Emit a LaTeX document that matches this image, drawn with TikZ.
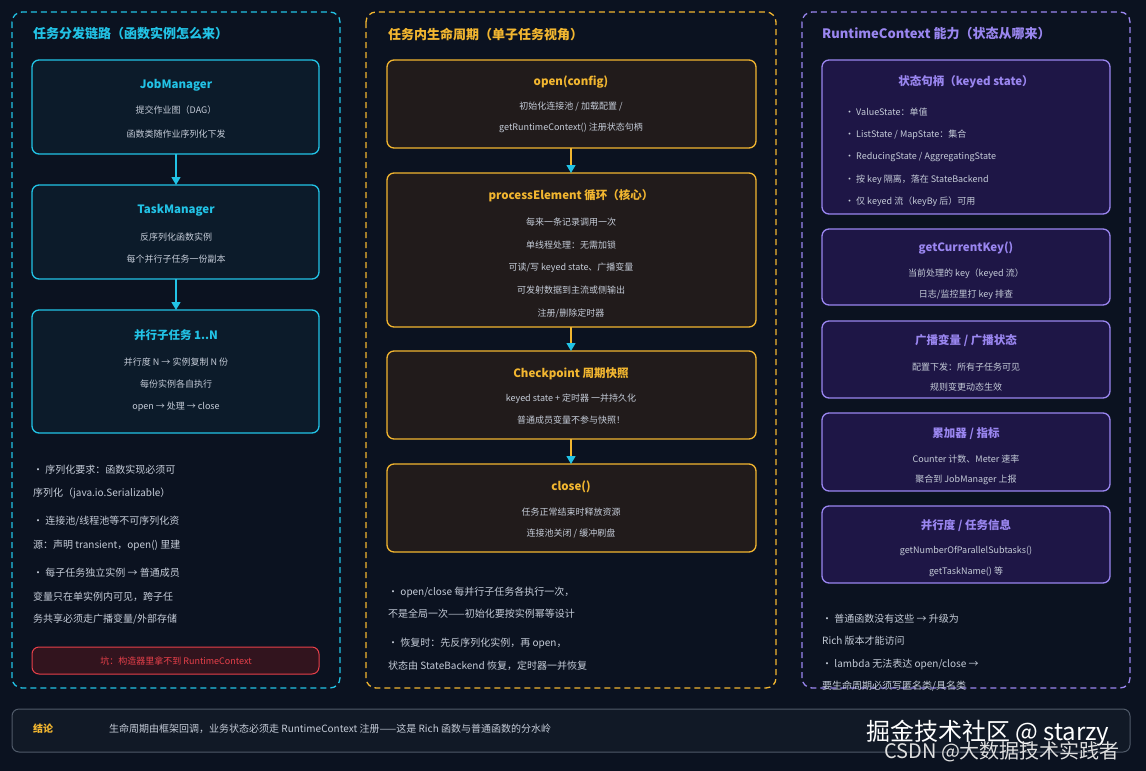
\documentclass[tikz,border=0pt]{standalone}
\usepackage{fontspec}
\setmainfont{Noto Sans CJK SC}
\usetikzlibrary{arrows.meta}
\definecolor{bgc}{HTML}{0B1220}
\definecolor{cyanc}{HTML}{22C3E6}
\definecolor{goldc}{HTML}{F2B630}
\definecolor{purc}{HTML}{9A86F0}
\definecolor{txtc}{HTML}{C5CCD8}
\definecolor{redc}{HTML}{E8404A}
\definecolor{barc}{HTML}{505A69}

\tikzset{
  panel/.style={draw, dashed, dash pattern=on 6pt off 4pt, line width=1.3pt, rounded corners=10pt},
  card/.style={draw, line width=1.3pt, rounded corners=7pt},
  ttl/.style={font=\bfseries\fontsize{11.5}{13}\selectfont},
  body/.style={text=txtc, font=\fontsize{9}{10}\selectfont, inner sep=0pt},
  note/.style={text=txtc, font=\fontsize{10}{11}\selectfont, anchor=west, inner sep=0pt},
  flow/.style={-{Triangle[length=8pt,width=9pt]}, line width=1.3pt}
}

\begin{document}
\begin{tikzpicture}[x=1pt,y=-1pt]
\fill[bgc] (0,0) rectangle (1146,771);
\useasboundingbox (0,0) rectangle (1146,771);

% panels
\draw[panel, cyanc, fill=bgc] (12,12) rectangle (340,688);
\draw[panel, goldc, fill=bgc] (366,12) rectangle (776,688);
\draw[panel, purc, fill=bgc] (802,12) rectangle (1130,688);

\node[ttl, text=cyanc, anchor=west, inner sep=0pt, font=\bfseries\fontsize{13}{14}\selectfont] (ttlA) at (33,34) {任务分发链路（函数实例怎么来）};
\node[ttl, text=goldc, anchor=west, inner sep=0pt, font=\bfseries\fontsize{13}{14}\selectfont] (ttlB) at (388,34) {任务内生命周期（单子任务视角）};
\node[ttl, text=purc, anchor=west, inner sep=0pt, font=\bfseries\fontsize{13}{14}\selectfont] (ttlC) at (822,34) {RuntimeContext 能力（状态从哪来）};

% left column
\draw[card, cyanc, fill={rgb,255:red,12;green,27;blue,42}] (32,60) rectangle (319,154);
\draw[card, cyanc, fill={rgb,255:red,12;green,27;blue,42}] (32,185) rectangle (319,279);
\draw[card, cyanc, fill={rgb,255:red,12;green,27;blue,42}] (32,310) rectangle (319,433);
\coordinate (jmB) at (176,154); \coordinate (tmT) at (176,185);
\coordinate (tmB) at (176,279); \coordinate (ptT) at (176,310);
\draw[flow, cyanc] (jmB) -- (tmT);
\draw[flow, cyanc] (tmB) -- (ptT);

\node[ttl, text=cyanc] (jm) at (176,85) {JobManager};
\node[body] (jm1) at (176,110) {提交作业图（DAG）};
\node[body] (jm2) at (176,134) {函数类随作业序列化下发};
\node[ttl, text=cyanc] (tm) at (176,210) {TaskManager};
\node[body] (tm1) at (176,237) {反序列化函数实例};
\node[body] (tm2) at (176,259) {每个并行子任务一份副本};
\node[ttl, text=cyanc] (pt) at (176,335) {并行子任务 1..N};
\node[body] (pt1) at (176,362) {并行度 N → 实例复制 N 份};
\node[body] (pt2) at (176,384) {每份实例各自执行};
\node[body] (pt3) at (176,407) {open → 处理 → close};

\node[note] (la1) at (33,470) {· 序列化要求：函数实现必须可};
\node[note] (la2) at (33,493) {序列化（java.io.Serializable）};
\node[note] (lb1) at (33,521) {· 连接池/线程池等不可序列化资};
\node[note] (lb2) at (33,545) {源：声明 transient，open() 里建};
\node[note] (lc1) at (33,573) {· 每子任务独立实例 → 普通成员};
\node[note] (lc2) at (33,597) {变量只在单实例内可见，跨子任};
\node[note] (lc3) at (33,619) {务共享必须走广播变量/外部存储};

\draw[card, line width=1pt, redc, fill={rgb,255:red,50;green,20;blue,30}] (32,647) rectangle (319,674);
\node[body, text=redc] (pit) at (176,661) {坑：构造器里拿不到 RuntimeContext};

% middle column
\foreach \ya/\yb in {60/148, 173/327, 351/439, 464/552}
  \draw[card, goldc, fill={rgb,255:red,33;green,27;blue,27}] (387,\ya) rectangle (756,\yb);
\coordinate (opB) at (571,148); \coordinate (peT) at (571,173);
\coordinate (peB) at (571,327); \coordinate (ckT) at (571,351);
\coordinate (ckB) at (571,439); \coordinate (clT) at (571,464);
\foreach \a/\b in {opB/peT, peB/ckT, ckB/clT}
  \draw[flow, goldc, -{Triangle[length=8pt,width=9pt,fill=cyanc,color=cyanc]}] (\a) -- (\b);

\node[ttl, text=goldc] (op) at (571,82) {open(config)};
\node[body] (op1) at (571,107) {初始化连接池 / 加载配置 /};
\node[body] (op2) at (571,128) {getRuntimeContext() 注册状态句柄};
\node[ttl, text=goldc] (pe) at (571,196) {processElement 循环（核心）};
\node[body] (pe1) at (571,222) {每来一条记录调用一次};
\node[body] (pe2) at (571,245) {单线程处理：无需加锁};
\node[body] (pe3) at (571,268) {可读/写 keyed state、广播变量};
\node[body] (pe4) at (571,290) {可发射数据到主流或侧输出};
\node[body] (pe5) at (571,313) {注册/删除定时器};
\node[ttl, text=goldc] (ck) at (571,374) {Checkpoint 周期快照};
\node[body] (ck1) at (571,399) {keyed state + 定时器 一并持久化};
\node[body] (ck2) at (571,420) {普通成员变量不参与快照！};
\node[ttl, text=goldc] (cl) at (571,487) {close()};
\node[body] (cl1) at (571,512) {任务正常结束时释放资源};
\node[body] (cl2) at (571,533) {连接池关闭 / 缓冲刷盘};

\node[note] (ma1) at (388,592) {· open/close 每并行子任务各执行一次，};
\node[note] (ma2) at (388,614) {不是全局一次——初始化要按实例幂等设计};
\node[note] (mb1) at (388,643) {· 恢复时：先反序列化实例，再 open，};
\node[note] (mb2) at (388,666) {状态由 StateBackend 恢复，定时器一并恢复};

% right column
\foreach \ya/\yb in {60/214, 229/305, 321/398, 413/491, 506/583}
  \draw[card, purc, fill={rgb,255:red,30;green,22;blue,70}] (822,\ya) rectangle (1110,\yb);

\node[ttl, text=purc] (ks) at (966,82) {状态句柄（keyed state）};
\node[body, anchor=west] (ks1) at (845,112) {· ValueState：单值};
\node[body, anchor=west] (ks2) at (845,135) {· ListState / MapState：集合};
\node[body, anchor=west] (ks3) at (845,157) {· ReducingState / AggregatingState};
\node[body, anchor=west] (ks4) at (845,180) {· 按 key 隔离，落在 StateBackend};
\node[body, anchor=west] (ks5) at (845,202) {· 仅 keyed 流（keyBy 后）可用};
\node[ttl, text=purc] (gk) at (966,248) {getCurrentKey()};
\node[body] (gk1) at (966,274) {当前处理的 key（keyed 流）};
\node[body] (gk2) at (966,295) {日志/监控里打 key 排查};
\node[ttl, text=purc] (bc) at (966,341) {广播变量 / 广播状态};
\node[body] (bc1) at (966,367) {配置下发：所有子任务可见};
\node[body] (bc2) at (966,387) {规则变更动态生效};
\node[ttl, text=purc] (ac) at (966,434) {累加器 / 指标};
\node[body] (ac1) at (966,459) {Counter 计数、Meter 速率};
\node[body] (ac2) at (966,480) {聚合到 JobManager 上报};
\node[ttl, text=purc] (pi) at (966,526) {并行度 / 任务信息};
\node[body] (pi1) at (966,551) {getNumberOfParallelSubtasks()};
\node[body] (pi2) at (966,572) {getTaskName() 等};

\node[note] (ra1) at (822,619) {· 普通函数没有这些 → 升级为};
\node[note] (ra2) at (822,641) {Rich 版本才能访问};
\node[note] (rb1) at (822,664) {· lambda 无法表达 open/close →};
\node[note] (rb2) at (822,686) {要生命周期必须写匿名类/具名类};

% bottom bar
\draw[card, line width=1pt, draw=barc, fill={rgb,255:red,17;green,25;blue,38}] (12,709) rectangle (1130,752);
\node[text=goldc, anchor=west, inner sep=0pt, font=\bfseries\fontsize{10}{11}\selectfont] (con) at (33,729) {结论};
\node[note] (conT) at (109,729) {生命周期由框架回调，业务状态必须走 RuntimeContext 注册——这是 Rich 函数与普通函数的分水岭};

% watermarks
\node[anchor=west, inner sep=0pt, text=white, font=\fontsize{24}{26}\selectfont] (wm1) at (866,733) {掘金技术社区 @ starzy};
\node[anchor=west, inner sep=0pt, text=white!75!gray, font=\fontsize{20}{22}\selectfont] (wm2) at (884,752) {CSDN @大数据技术实践者};
\end{tikzpicture}
\end{document}
